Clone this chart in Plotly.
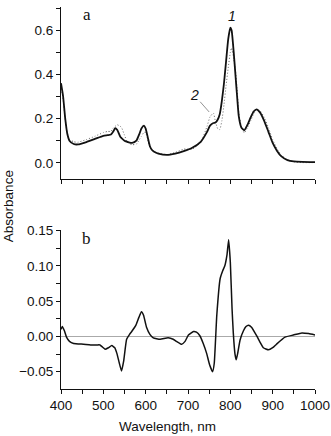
import plotly.graph_objects as go

# Panel a: absorbance spectra
wl_a = [400,405,410,415,420,430,440,460,480,500,510,518,523,528,533,540,543,550,555,560,568,578,585,590,596,600,605,610,615,620,630,650,670,690,710,730,745,752,760,765,770,775,780,785,790,795,800,803,808,812,816,820,826,833,840,848,855,862,870,880,890,900,910,920,935,950,970,1000]
abs1 = [0.36,0.30,0.20,0.13,0.10,0.085,0.083,0.094,0.108,0.122,0.125,0.128,0.140,0.157,0.148,0.118,0.112,0.100,0.096,0.093,0.090,0.100,0.130,0.155,0.168,0.155,0.115,0.075,0.058,0.050,0.042,0.036,0.042,0.053,0.068,0.095,0.140,0.168,0.180,0.182,0.195,0.220,0.280,0.360,0.460,0.560,0.612,0.600,0.500,0.400,0.300,0.210,0.160,0.147,0.170,0.205,0.232,0.242,0.228,0.190,0.140,0.090,0.055,0.030,0.012,0.006,0.004,0.003]
abs2 = [0.348,0.286,0.195,0.133,0.107,0.095,0.093,0.105,0.120,0.137,0.142,0.142,0.156,0.165,0.172,0.165,0.160,0.125,0.100,0.088,0.082,0.084,0.105,0.120,0.138,0.137,0.105,0.070,0.058,0.051,0.044,0.037,0.047,0.062,0.062,0.092,0.165,0.208,0.225,0.185,0.155,0.150,0.190,0.263,0.350,0.430,0.500,0.520,0.470,0.420,0.330,0.225,0.163,0.135,0.158,0.189,0.222,0.241,0.236,0.206,0.159,0.105,0.065,0.035,0.013,0.004,0.001,0.001]

# Panel b: difference spectrum
wl_b = [400,403,408,413,420,430,453,470,485,492,498,504,512,520,527,532,537,543,548,555,562,567,577,584,590,595,602,610,618,634,653,665,673,685,693,701,713,720,728,736,744,751,758,762,768,776,782,787,792,796,800,804,807,811,814,818,823,831,837,843,850,862,870,878,890,900,909,929,949,969,985,1000]
diff = [0.010,0.014,0.008,-0.001,-0.007,-0.010,-0.011,-0.012,-0.012,-0.012,-0.015,-0.018,-0.016,-0.013,-0.016,-0.024,-0.036,-0.049,-0.035,-0.004,0.003,0.007,0.016,0.027,0.035,0.030,0.013,0.003,-0.002,-0.004,-0.002,-0.004,-0.007,-0.011,-0.007,0.002,0.007,0.006,0.001,-0.010,-0.024,-0.040,-0.050,-0.038,0.030,0.082,0.093,0.100,0.115,0.137,0.105,0.040,0.005,-0.025,-0.033,-0.022,-0.005,0.008,0.014,0.016,0.013,0.001,-0.008,-0.016,-0.019,-0.016,-0.011,-0.001,0.002,0.005,0.004,0.002]

fig = go.Figure()
fig.add_trace(go.Scatter(x=wl_a, y=abs2, mode="lines", line=dict(color="#666666", width=1, dash="1px,2px", shape="spline", smoothing=0.4), xaxis="x", yaxis="y", showlegend=False))
fig.add_trace(go.Scatter(x=wl_a, y=abs1, mode="lines", line=dict(color="#111111", width=1.8, shape="spline", smoothing=0.5), xaxis="x", yaxis="y", showlegend=False))
fig.add_trace(go.Scatter(x=wl_b, y=diff, mode="lines", line=dict(color="#111111", width=1.5, shape="spline", smoothing=0.4), xaxis="x2", yaxis="y2", showlegend=False))

tickfont = dict(family="Liberation Sans, Arial", size=13.5, color="#111111")
common_x = dict(range=[400, 1000], dtick=100, tick0=400, ticks="outside", ticklen=4, tickwidth=1,
                tickcolor="#111", showline=True, linecolor="#111", linewidth=1, showgrid=False,
                zeroline=False, minor=dict(dtick=50, ticks="outside", ticklen=4, tickcolor="#111", showgrid=False))

fig.update_layout(
    width=331, height=436,
    margin=dict(l=61, r=16, t=0, b=46.7),
    paper_bgcolor="white", plot_bgcolor="white",
    font=tickfont,
    xaxis=dict(**common_x, domain=[0, 1], anchor="y", showticklabels=False),
    yaxis=dict(domain=[0.5505, 1], anchor="x", range=[-0.072, 0.705], dtick=0.2, tick0=0,
               tickformat=".1f", ticks="outside", ticklen=4, tickcolor="#111", showline=True,
               linecolor="#111", linewidth=1, showgrid=False, zeroline=False, tickfont=tickfont,
               minor=dict(dtick=0.1, ticks="outside", ticklen=4, tickcolor="#111", showgrid=False)),
    xaxis2=dict(**common_x, domain=[0, 1], anchor="y2", showticklabels=True, tickfont=tickfont),
    yaxis2=dict(domain=[0, 0.415], anchor="x2", range=[-0.0744, 0.15], dtick=0.05, tick0=0,
                tickformat=".2f", ticks="outside", ticklen=4, tickcolor="#111", showline=True,
                linecolor="#111", linewidth=1, showgrid=False, zeroline=True, zerolinecolor="#aaaaaa",
                zerolinewidth=1, tickfont=tickfont,
                minor=dict(dtick=0.025, ticks="outside", ticklen=4, tickcolor="#111", showgrid=False)),
)

serif = dict(family="Liberation Serif, Times New Roman", size=17, color="#111")
fig.add_annotation(x=461, y=0.67, xref="x", yref="y", text="a", showarrow=False, font=serif)
fig.add_annotation(x=461, y=0.1385, xref="x2", yref="y2", text="b", showarrow=False, font=serif)
fig.add_annotation(x=804, y=0.665, xref="x", yref="y", text="<i>1</i>", showarrow=False,
                   font=dict(family="Liberation Sans, Arial", size=14, color="#111"))
fig.add_annotation(x=750, y=0.23, xref="x", yref="y", text="<i>2</i>", showarrow=True, arrowhead=0,
                   arrowwidth=0.8, arrowcolor="#777", ax=-15, ay=-17,
                   font=dict(family="Liberation Sans, Arial", size=14, color="#111"))
fig.add_annotation(x=-0.2087, y=0.4786, xref="paper", yref="paper", text="Absorbance", textangle=-90,
                   showarrow=False, xanchor="center", yanchor="middle", font=tickfont)
fig.add_annotation(x=0.421, y=-0.0994, xref="paper", yref="paper", text="Wavelength, nm",
                   showarrow=False, xanchor="center", yanchor="middle", font=tickfont)

fig.write_html("out.html")
